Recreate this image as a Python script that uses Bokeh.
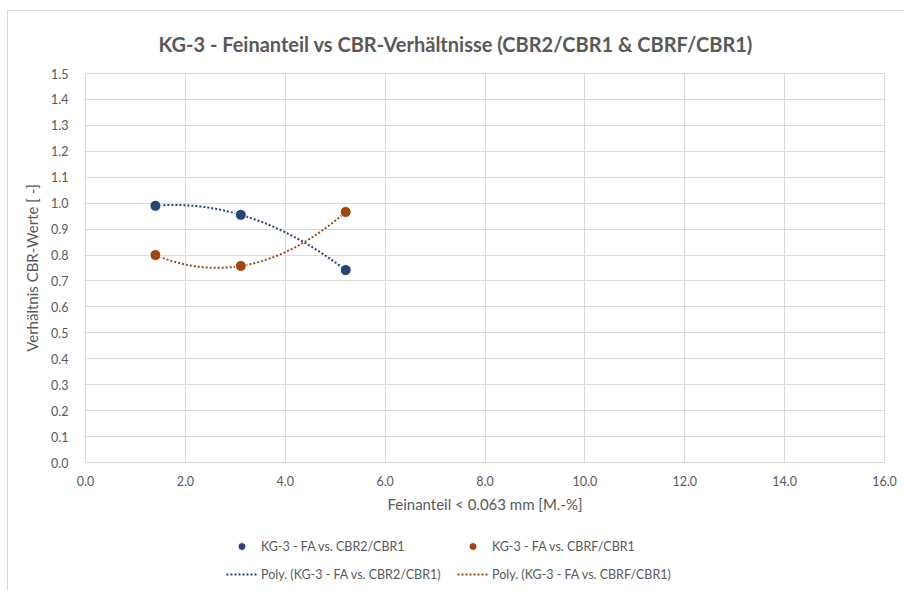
import numpy as np
from bokeh.plotting import figure
from bokeh.layouts import column
from bokeh.models import Range1d, FixedTicker, NumeralTickFormatter, Legend, LegendItem
from bokeh.embed import file_html
from bokeh.resources import INLINE

# Fines content [M.-%] and CBR ratios
feinanteil = [1.40, 3.11, 5.21]
cbr2_cbr1 = [0.990, 0.955, 0.742]
cbrf_cbr1 = [0.800, 0.758, 0.966]

x_ticks = [0, 2, 4, 6, 8, 10, 12, 14, 16]
y_ticks = [round(0.1 * i, 1) for i in range(16)]

BLUE = "#264478"
ORANGE = "#9E480E"
GRID = "#d9d9d9"
TEXT = "#595959"
FONT = "Lato"
BORDER = "1px solid #d9d9d9"

p = figure(frame_width=798, frame_height=388, output_backend="svg", toolbar_location=None,
           x_range=Range1d(0, 16), y_range=Range1d(0, 1.5),
           min_border_left=77, min_border_right=22, min_border_top=62, min_border_bottom=60,
           title="KG-3 - Feinanteil vs CBR-Verhältnisse (CBR2/CBR1  & CBRF/CBR1)")
p.margin = (10, 0, 0, 7)
p.styles = {"border-left": BORDER, "border-top": BORDER}

p.title.align = "left"
p.title.offset = 73
p.title.text_font = FONT
p.title.text_font_size = "20px"
p.title.text_font_style = "bold"
p.title.text_color = TEXT
p.title.standoff = 36

p.outline_line_color = GRID
p.background_fill_color = "white"
p.border_fill_color = "white"

for ax in (p.xaxis[0], p.yaxis[0]):
    ax.axis_line_color = None
    ax.major_tick_line_color = None
    ax.minor_tick_line_color = None
    ax.major_label_text_font = FONT
    ax.major_label_text_font_size = "12.5px"
    ax.major_label_text_color = TEXT
    ax.axis_label_text_font = FONT
    ax.axis_label_text_font_size = "15px"
    ax.axis_label_text_color = TEXT
    ax.axis_label_text_font_style = "normal"
    ax.formatter = NumeralTickFormatter(format="0.0")

p.xaxis.ticker = FixedTicker(ticks=x_ticks)
p.yaxis.ticker = FixedTicker(ticks=y_ticks)
p.xaxis.axis_label = "Feinanteil < 0.063 mm [M.-%]"
p.yaxis.axis_label = "Verhältnis CBR-Werte [ -]"
p.xaxis.major_label_standoff = 7
p.yaxis.major_label_standoff = 11
p.xaxis.axis_label_standoff = 6
p.yaxis.axis_label_standoff = 7

p.xgrid.grid_line_color = GRID
p.ygrid.grid_line_color = GRID
p.xgrid.ticker = FixedTicker(ticks=x_ticks)
p.ygrid.ticker = FixedTicker(ticks=y_ticks)

# second-order polynomial trendlines
xs = np.linspace(min(feinanteil), max(feinanteil), 200)
fit_b = np.polyval(np.polyfit(feinanteil, cbr2_cbr1, 2), xs)
fit_o = np.polyval(np.polyfit(feinanteil, cbrf_cbr1, 2), xs)

lb = p.line(xs, fit_b, line_color=BLUE, line_width=2, line_dash="2 2")
lo = p.line(xs, fit_o, line_color=ORANGE, line_width=2, line_dash="2 2")
sb = p.scatter(feinanteil, cbr2_cbr1, size=11, fill_color=BLUE, line_color="white", line_width=1)
so = p.scatter(feinanteil, cbrf_cbr1, size=11, fill_color=ORANGE, line_color="white", line_width=1)

# legend strip below the chart; its renderers sit outside the strip's visible range,
# so only the legend swatches show
leg = figure(width=897, height=70, output_backend="svg", toolbar_location=None,
             x_range=Range1d(100, 101), y_range=Range1d(100, 101),
             x_axis_type=None, y_axis_type=None,
             min_border_left=0, min_border_right=0, min_border_top=0, min_border_bottom=0)
leg.margin = (0, 0, 0, 7)
leg.styles = {"border-left": BORDER}
leg.grid.visible = False
leg.outline_line_color = None
leg.border_fill_color = "white"

kb = leg.scatter(feinanteil, cbr2_cbr1, size=11, fill_color=BLUE, line_color="white", line_width=1)
ko = leg.scatter(feinanteil, cbrf_cbr1, size=11, fill_color=ORANGE, line_color="white", line_width=1)
kbl = leg.line(xs, fit_b, line_color=BLUE, line_width=2, line_dash="2 2")
kol = leg.line(xs, fit_o, line_color=ORANGE, line_width=2, line_dash="2 2")

# two legend columns, filled column by column
legend = Legend(items=[
    LegendItem(label="KG-3 - FA vs. CBR2/CBR1", renderers=[kb]),
    LegendItem(label="Poly. (KG-3 - FA vs. CBR2/CBR1)", renderers=[kbl]),
    LegendItem(label="KG-3 - FA vs. CBRF/CBR1", renderers=[ko]),
    LegendItem(label="Poly. (KG-3 - FA vs. CBRF/CBR1)", renderers=[kol]),
], ncols=2, location=(141, 7))
legend.label_text_font = FONT
legend.label_text_font_size = "12.5px"
legend.label_text_color = TEXT
legend.border_line_color = None
legend.background_fill_alpha = 0
legend.glyph_width = 31
legend.label_width = 188
legend.label_standoff = 4
legend.spacing = 8
legend.padding = 0
legend.margin = 0
leg.add_layout(legend, "center")

layout = column(p, leg, spacing=0)
open("out.html", "w").write(file_html(layout, INLINE))
